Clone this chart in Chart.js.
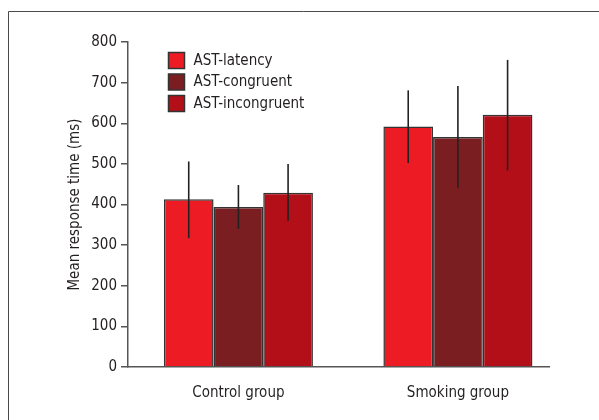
<!DOCTYPE html>
<html>
<head>
<meta charset="utf-8">
<script src="https://cdn.jsdelivr.net/npm/chart.js@4.4.1/dist/chart.umd.min.js"></script>
<style>
html,body{margin:0;padding:0;background:#fff;}
#wrap{position:relative;width:599px;height:420px;}
</style>
</head>
<body>
<div id="wrap"><canvas id="c" width="599" height="420"></canvas></div>
<script>
const categories = ["Control group", "Smoking group"];
const seriesNames = ["AST-latency", "AST-congruent", "AST-incongruent"];
const latency = [413, 592];
const congruent = [394, 566];
const incongruent = [429, 621];
const latencyLow = [317, 502];
const latencyHigh = [506, 681];
const congruentLow = [340, 440];
const congruentHigh = [448, 692];
const incongruentLow = [360, 484];
const incongruentHigh = [500, 756];
const yTicks = [0, 100, 200, 300, 400, 500, 600, 700, 800];

const FONT = "'DejaVu Sans Condensed', 'Liberation Sans Narrow', sans-serif";
const FS = 15;
const TXT = '#231f20';
const AX = '#555555';
const colors = ['#ed1c24', '#7a1e22', '#b30f18'];
const values = [latency, congruent, incongruent];
const lows = [latencyLow, congruentLow, incongruentLow];
const highs = [latencyHigh, congruentHigh, incongruentHigh];

const datasets = seriesNames.map((name, s) => ({
  label: name,
  data: values[s].map((v, i) => ({x: i + 1, y: v})),
  backgroundColor: colors[s],
  borderColor: '#333333',
  borderWidth: 1.5,
  barPercentage: 1,
  categoryPercentage: 0.679,
  errLow: lows[s],
  errHigh: highs[s]
}));

const framePlugin = {
  id: 'frame',
  beforeDraw(chart) {
    const ctx = chart.ctx;
    ctx.save();
    ctx.strokeStyle = '#4a4a4a';
    ctx.lineWidth = 1;
    ctx.beginPath();
    ctx.moveTo(8.5, 420);
    ctx.lineTo(8.5, 11.5);
    ctx.lineTo(599, 11.5);
    ctx.stroke();
    ctx.restore();
  }
};

const errorPlugin = {
  id: 'errbars',
  afterDatasetsDraw(chart) {
    const ctx = chart.ctx;
    const yS = chart.scales.y;
    ctx.save();
    ctx.strokeStyle = '#222222';
    ctx.lineWidth = 1.6;
    chart.data.datasets.forEach((ds, di) => {
      const meta = chart.getDatasetMeta(di);
      meta.data.forEach((el, i) => {
        ctx.beginPath();
        ctx.moveTo(el.x, yS.getPixelForValue(ds.errLow[i]));
        ctx.lineTo(el.x, yS.getPixelForValue(ds.errHigh[i]));
        ctx.stroke();
      });
    });
    ctx.restore();
  }
};

const legendPlugin = {
  id: 'innerLegend',
  afterDraw(chart) {
    const ctx = chart.ctx;
    const a = chart.chartArea;
    const x0 = a.left + 40.5, y0 = 52.5, box = 16, gap = 21.5;
    ctx.save();
    ctx.font = FS + 'px ' + FONT;
    ctx.textBaseline = 'middle';
    ctx.textAlign = 'left';
    chart.data.datasets.forEach((ds, i) => {
      const y = y0 + i * gap;
      ctx.fillStyle = ds.backgroundColor;
      ctx.fillRect(x0, y, box, box);
      ctx.strokeStyle = '#333333';
      ctx.lineWidth = 1.5;
      ctx.strokeRect(x0, y, box, box);
      ctx.fillStyle = TXT;
      ctx.fillText(ds.label, x0 + 25, y + box / 2 + 0.5);
    });
    ctx.restore();
  }
};

new Chart(document.getElementById('c'), {
  type: 'bar',
  data: {datasets},
  options: {
    responsive: false,
    animation: false,
    devicePixelRatio: 1,
    layout: {padding: {left: 66, top: 42, right: 50, bottom: 0}},
    plugins: {legend: {display: false}, tooltip: {enabled: false}},
    scales: {
      x: {
        type: 'linear',
        offset: false,
        min: 0.497,
        max: 2.415,
        afterBuildTicks: s => { s.ticks = categories.map((c, i) => ({value: i + 1})); },
        afterFit: s => { s.height = 53; },
        ticks: {
          callback: v => categories[v - 1],
          color: TXT,
          font: {family: FONT, size: FS},
          padding: 17,
          maxRotation: 0,
          autoSkip: false
        },
        grid: {display: false, drawTicks: false, offset: false},
        border: {display: true, color: AX, width: 1.5}
      },
      y: {
        min: 0,
        max: 800,
        afterBuildTicks: s => { s.ticks = yTicks.map(v => ({value: v})); },
        afterFit: s => { s.width = 62; },
        ticks: {color: TXT, font: {family: FONT, size: FS}, padding: 4},
        grid: {drawOnChartArea: false, drawTicks: true, tickLength: 7, color: AX, lineWidth: 1.5},
        border: {display: true, color: AX, width: 1.5},
        title: {display: true, text: 'Mean response time (ms)', color: TXT, font: {family: FONT, size: FS}, padding: {top: 0, bottom: 0}}
      }
    }
  },
  plugins: [framePlugin, errorPlugin, legendPlugin]
});
</script>
</body>
</html>
